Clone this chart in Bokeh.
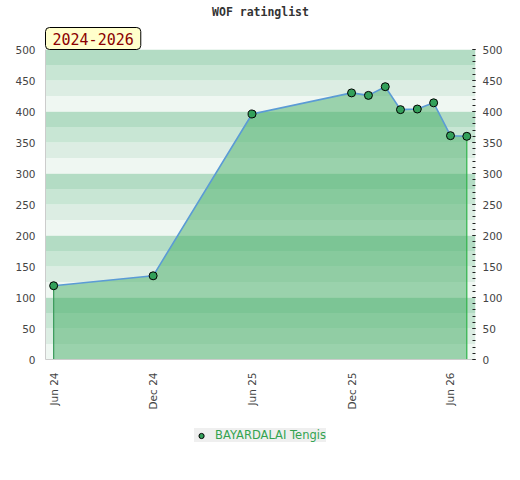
import math
import pandas as pd
from bokeh.plotting import figure
from bokeh.layouts import column
from bokeh.models import (Range1d, LinearAxis, FixedTicker, SingleIntervalTicker,
                          DatetimeTickFormatter, BoxAnnotation, Title, Legend,
                          LegendItem, ColumnDataSource)
from bokeh.embed import file_html
from bokeh.resources import INLINE

# ---- data ----
months = ["2024-06-01", "2024-12-01", "2025-06-01", "2025-12-01", "2026-01-01",
          "2026-02-01", "2026-03-01", "2026-04-01", "2026-05-01", "2026-06-01",
          "2026-07-01"]
ratings = [119, 135, 396, 430, 426, 440, 403, 404, 414, 361, 360]
tick_dates = ["2024-06-01", "2024-12-01", "2025-06-01", "2025-12-01", "2026-06-01"]
player = "BAYARDALAI Tengis"
period_label = "2024-2026"
chart_title = "WOF ratinglist"

dates = pd.to_datetime(months)
x_start = pd.Timestamp("2024-05-17")
x_end = pd.Timestamp("2026-07-17")

src = ColumnDataSource(dict(x=dates, y=ratings))

MARKER_FILL = "#33a05a"

p = figure(x_axis_type="datetime", frame_width=430, frame_height=310,
           min_border_left=45, min_border_right=45, min_border_top=0,
           min_border_bottom=0,
           x_range=Range1d(x_start, x_end), y_range=Range1d(0, 500),
           output_backend="svg", toolbar_location=None)
p.grid.visible = False
p.outline_line_color = None
p.background_fill_color = "white"
p.border_fill_color = "white"

# background bands
band_colors = ["#eff7f2", "#dcede3", "#c8e6d4", "#b3dcc4"]
for i, lo in enumerate(range(0, 500, 25)):
    p.add_layout(BoxAnnotation(bottom=lo, top=lo + 25, fill_color=band_colors[i % 4],
                               fill_alpha=1, line_color=None, level="underlay"))

# area, edges, line, markers
p.varea(x="x", y1=0, y2="y", source=src, fill_color="#45ad66", fill_alpha=0.5)
p.segment(x0=[dates[0]], y0=[0], x1=[dates[0]], y1=[ratings[0]],
          line_color="#3a9a5a", line_width=1.2)
p.segment(x0=[dates[-1]], y0=[0], x1=[dates[-1]], y1=[ratings[-1]],
          line_color="#2fb34a", line_width=1.2)
p.line(x="x", y="y", source=src, line_color="#5b9bd5", line_width=1.6)
p.scatter(x="x", y="y", source=src, size=8, fill_color=MARKER_FILL,
          line_color="black", line_width=1)

# axes
tick_font = "DejaVu Sans"
yl = p.yaxis[0]
yl.ticker = SingleIntervalTicker(interval=50, num_minor_ticks=0)
yl.major_tick_in = 0
yl.major_tick_out = 0
yl.minor_tick_in = 0
yl.minor_tick_out = 0
yl.axis_line_color = "#cccccc"
yl.major_label_standoff = 10
yl.major_label_text_font = tick_font
yl.major_label_text_font_size = "10.5px"
yl.major_label_text_color = "#444444"

yr = LinearAxis(ticker=SingleIntervalTicker(interval=50, num_minor_ticks=5))
yr.axis_line_color = None
yr.major_tick_in = 3
yr.major_tick_out = 0
yr.minor_tick_in = 3
yr.minor_tick_out = 0
yr.major_tick_line_color = "#222222"
yr.minor_tick_line_color = "#222222"
yr.major_label_standoff = 7
yr.major_label_text_font = tick_font
yr.major_label_text_font_size = "10.5px"
yr.major_label_text_color = "#444444"
p.add_layout(yr, "right")

xa = p.xaxis[0]
xa.ticker = FixedTicker(ticks=[pd.Timestamp(d).value // 10**6 for d in tick_dates])
fmt = "%b %y"
xa.formatter = DatetimeTickFormatter(days=fmt, months=fmt, years=fmt, hours=fmt)
xa.major_label_orientation = math.pi / 2
xa.major_tick_in = 0
xa.major_tick_out = 0
xa.minor_tick_in = 0
xa.minor_tick_out = 0
xa.axis_line_color = "#cccccc"
xa.major_label_standoff = 13
xa.major_label_text_font = tick_font
xa.major_label_text_font_size = "10.5px"
xa.major_label_text_color = "#444444"

# titles
p.title = Title(text=chart_title, align="center", vertical_align="top",
                text_font="DejaVu Sans Mono",
                text_font_size="11.5px", text_font_style="bold", text_color="#333333",
                standoff=9, offset=0)
p.add_layout(Title(text=period_label, align="left", text_font="DejaVu Sans Mono",
                   text_font_size="15px", text_font_style="normal", text_color="#8b0000",
                   background_fill_color="#ffffcc", border_line_color="black",
                   border_line_width=1, padding=dict(left=7, right=7, top=5, bottom=5),
                   border_radius=4, standoff=0, offset=0), "above")

# legend strip below the chart (its key glyph uses the same series, drawn off-view)
p2 = figure(width=520, height=60, x_range=Range1d(0, 1), y_range=Range1d(0, 1),
            min_border=0, output_backend="svg", toolbar_location=None)
p2.axis.visible = False
p2.grid.visible = False
p2.outline_line_color = None
p2.background_fill_color = "white"
p2.border_fill_color = "white"
r2 = p2.scatter(x="x", y="y", source=src, size=8, fill_color=MARKER_FILL,
                line_color="black", line_width=1)
legend = Legend(items=[LegendItem(label=player, renderers=[r2])], location="top_center",
                orientation="horizontal", background_fill_color="#efefef",
                background_fill_alpha=1, border_line_color=None,
                label_text_color="#33a34f", label_text_font=tick_font,
                label_text_font_size="11.5px", glyph_width=14, glyph_height=13,
                label_height=13, padding=5, margin=16, label_standoff=7)
p2.add_layout(legend, "center")

open("out.html", "w").write(file_html(column(p, p2, spacing=0), INLINE))
